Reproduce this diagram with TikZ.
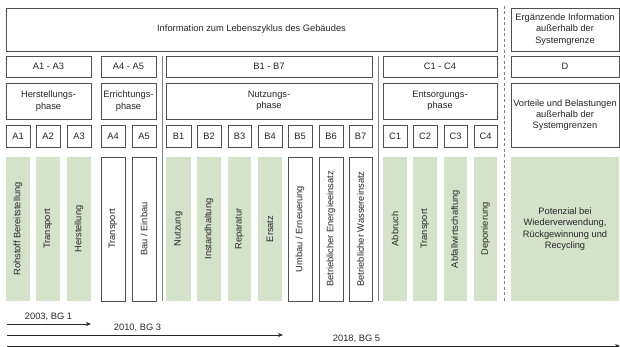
\documentclass[tikz,border=0pt]{standalone}
\usepackage{fontspec}
\setmainfont{Liberation Sans}
\usetikzlibrary{arrows.meta}
\definecolor{grn}{HTML}{D4E2CA}
\definecolor{bord}{HTML}{505050}
\definecolor{sepc}{HTML}{808080}
\definecolor{txt}{HTML}{262626}
\newcommand\fs{\fontsize{9.3}{11.3}\selectfont}
% [style] x1 y1 x2 y2 name text
\newcommand\bx[7][]{\node[#1, minimum width={#4-#2}, minimum height={#5-#3}] (#6) at ({(#2+#4)/2},{(#3+#5)/2}) {#7};}
% [style] x1 x2 name text  (vertical bar, rotated text)
\newcommand\colbar[5][]{\node[#1, rotate=90, minimum width={301-157}, minimum height={#3-#2}] (#4) at ({(#2+#3)/2},229) {#5};}
\tikzset{
  box/.style={draw=bord, line width=0.8pt, fill=white, inner sep=0pt, align=center, text=txt, font=\fs},
  gbar/.style={fill=grn, inner sep=0pt, align=center, text=txt, font=\fs},
  sepline/.style={draw=sepc, line width=1pt},
  dashline/.style={draw=sepc, line width=1pt, dash pattern=on 3pt off 2.5pt},
  arr/.style={draw=black!85, line width=0.9pt, -{Stealth[length=5pt,width=4pt]}},
  lbl/.style={inner sep=0pt, text=txt, font=\fs}
}
\begin{document}
\begin{tikzpicture}[x=1pt,y=-1pt]
\useasboundingbox (0,0) rectangle (620,347);
% row 1
\bx[box]{6}{8}{497}{51}{info}{Information zum Lebenszyklus des Gebäudes}
\bx[box]{511}{8}{619}{51}{erg}{Ergänzende Information\\außerhalb der\\Systemgrenze}
% row 2
\bx[box]{6}{56}{91}{77}{ra}{A1 - A3}
\bx[box]{101}{56}{156}{77}{rb}{A4 - A5}
\bx[box]{166}{56}{372}{77}{rc}{B1 - B7}
\bx[box]{383}{56}{497}{77}{rd}{C1 - C4}
\bx[box]{511}{56}{619}{77}{re}{D}
% row 3
\bx[box]{6}{83}{91}{119}{pa}{Herstellungs-\\phase}
\bx[box]{101}{83}{156}{119}{pb}{Errichtungs-\\phase}
\bx[box]{166}{83}{372}{119}{pc}{Nutzungs-\\phase}
\bx[box]{383}{83}{497}{119}{pd}{Entsorgungs-\\phase}
\bx[box]{511}{83}{619}{147}{pe}{Vorteile und Belastungen\\außerhalb der\\Systemgrenzen}
% row 4
\bx[box]{6}{125}{30}{147}{cA1}{A1}
\bx[box]{36}{125}{60}{147}{cA2}{A2}
\bx[box]{67}{125}{91}{147}{cA3}{A3}
\bx[box]{101}{125}{125}{147}{cA4}{A4}
\bx[box]{132}{125}{156}{147}{cA5}{A5}
\bx[box]{166}{125}{191}{147}{cB1}{B1}
\bx[box]{197}{125}{221}{147}{cB2}{B2}
\bx[box]{228}{125}{251}{147}{cB3}{B3}
\bx[box]{258}{125}{282}{147}{cB4}{B4}
\bx[box]{288}{125}{312}{147}{cB5}{B5}
\bx[box]{319}{125}{343}{147}{cB6}{B6}
\bx[box]{349}{125}{372}{147}{cB7}{B7}
\bx[box]{383}{125}{407}{147}{cC1}{C1}
\bx[box]{413}{125}{437}{147}{cC2}{C2}
\bx[box]{444}{125}{467}{147}{cC3}{C3}
\bx[box]{474}{125}{497}{147}{cC4}{C4}
% bars
\colbar[gbar]{6}{30}{vA1}{Rohstoff Bereitstellung}
\colbar[gbar]{36}{60}{vA2}{Transport}
\colbar[gbar]{67}{91}{vA3}{Herstellung}
\colbar[box]{101}{125}{vA4}{Transport}
\colbar[box]{132}{156}{vA5}{Bau / Einbau}
\colbar[gbar]{166}{191}{vB1}{Nutzung}
\colbar[gbar]{197}{221}{vB2}{Instandhaltung}
\colbar[gbar]{228}{251}{vB3}{Reparatur}
\colbar[gbar]{258}{282}{vB4}{Ersatz}
\colbar[box]{288}{312}{vB5}{Umbau / Erneuerung}
\colbar[box]{319}{343}{vB6}{Betrieblicher Energieeinsatz}
\colbar[box]{349}{372}{vB7}{Betrieblicher Wassereinsatz}
\colbar[gbar]{383}{407}{vC1}{Abbruch}
\colbar[gbar]{413}{437}{vC2}{Transport}
\colbar[gbar]{444}{467}{vC3}{Abfallwirtschaftung}
\colbar[gbar]{474}{497}{vC4}{Deponierung}
\bx[gbar]{511}{157}{619}{301}{pot}{Potenzial bei\\Wiederverwendung,\\Rückgewinnung und\\Recycling}
% separators
\coordinate (s1t) at (162,56); \coordinate (s1b) at (162,301);
\coordinate (s2t) at (378,56); \coordinate (s2b) at (378,301);
\coordinate (s3t) at (504,6); \coordinate (s3b) at (504,301);
\draw[sepline] (s1t) -- (s1b);
\draw[sepline] (s2t) -- (s2b);
\draw[dashline] (s3t) -- (s3b);
% arrows
\coordinate (a1s) at (7,324); \coordinate (a1e) at (91,324);
\coordinate (a2s) at (7,335); \coordinate (a2e) at (283,335);
\coordinate (a3s) at (7,346); \coordinate (a3e) at (620,346);
\draw[arr] (a1s) -- (a1e);
\draw[arr] (a2s) -- (a2e);
\draw[arr] (a3s) -- (a3e);
\node[lbl] (l1) at (48.5,317) {2003, BG 1};
\node[lbl] (l2) at (137.5,328) {2010, BG 3};
\node[lbl] (l3) at (356.5,338.5) {2018, BG 5};
\end{tikzpicture}
\end{document}
